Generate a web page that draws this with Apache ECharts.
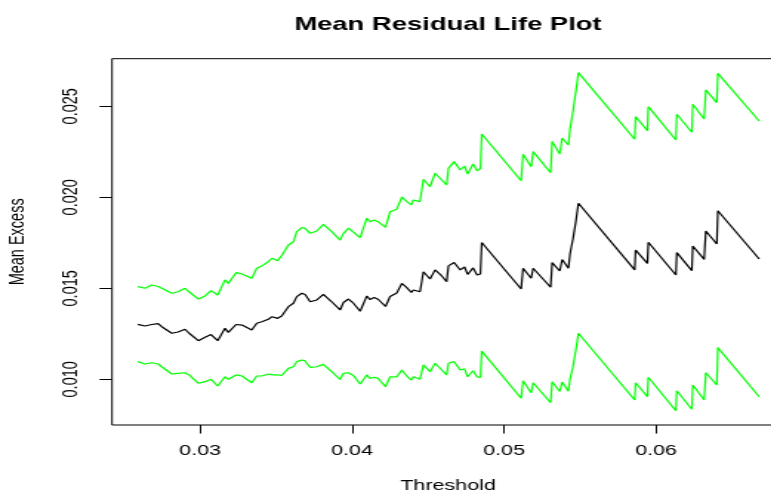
<!DOCTYPE html>
<html>
<head>
<meta charset="utf-8">
<script src="https://cdn.jsdelivr.net/npm/echarts@6/dist/echarts.min.js"></script>
<style>
  html, body { margin: 0; padding: 0; background: #fff; overflow: hidden; }
  #wrap { width: 771px; height: 490px; overflow: hidden; }
  /* the plot is laid out on a narrower canvas and widened horizontally */
  #chart { width: 521px; height: 490px; transform: scaleX(1.48); transform-origin: 0 0; }
</style>
</head>
<body>
<div id="wrap"><div id="chart"></div></div>
<script>
// Threshold grid and mean excess with its upper / lower confidence limits
const thresholds = [
  0.02590, 0.02638, 0.02682, 0.02724, 0.02748, 0.02814, 0.02855, 0.02901, 0.02928, 0.02989,
  0.03033, 0.03072, 0.03116, 0.03164, 0.03186, 0.03237, 0.03276, 0.03340, 0.03373, 0.03406,
  0.03449, 0.03474, 0.03510, 0.03537, 0.03581, 0.03614, 0.03636, 0.03669, 0.03691, 0.03724,
  0.03768, 0.03811, 0.03866, 0.03921, 0.03943, 0.03976, 0.04009, 0.04053, 0.04097, 0.04118,
  0.04145, 0.04171, 0.04220, 0.04250, 0.04294, 0.04327, 0.04360, 0.04390, 0.04403, 0.04447,
  0.04469, 0.04513, 0.04546, 0.04590, 0.04622, 0.04634, 0.04671, 0.04711, 0.04740, 0.04760,
  0.04796, 0.04822, 0.04844, 0.04853, 0.05112, 0.05125, 0.05178, 0.05191, 0.05306, 0.05316,
  0.05366, 0.05382, 0.05423, 0.05434, 0.05453, 0.05470, 0.05489, 0.05859, 0.05865, 0.05943,
  0.05949, 0.06130, 0.06136, 0.06235, 0.06241, 0.06316, 0.06327, 0.06399, 0.06406, 0.06678
];
const meanExcess = [
  0.01302, 0.01293, 0.01301, 0.01306, 0.01289, 0.01253, 0.01260, 0.01275, 0.01253, 0.01212,
  0.01231, 0.01246, 0.01212, 0.01280, 0.01258, 0.01301, 0.01298, 0.01271, 0.01308, 0.01316,
  0.01330, 0.01344, 0.01335, 0.01348, 0.01399, 0.01418, 0.01454, 0.01473, 0.01466, 0.01426,
  0.01436, 0.01466, 0.01426, 0.01381, 0.01422, 0.01441, 0.01418, 0.01374, 0.01458, 0.01438,
  0.01449, 0.01440, 0.01400, 0.01455, 0.01474, 0.01527, 0.01504, 0.01477, 0.01491, 0.01481,
  0.01591, 0.01551, 0.01601, 0.01568, 0.01536, 0.01623, 0.01642, 0.01601, 0.01617, 0.01576,
  0.01612, 0.01573, 0.01579, 0.01752, 0.01496, 0.01610, 0.01555, 0.01610, 0.01506, 0.01641,
  0.01595, 0.01658, 0.01610, 0.01691, 0.01771, 0.01857, 0.01967, 0.01601, 0.01710, 0.01637,
  0.01753, 0.01573, 0.01696, 0.01597, 0.01732, 0.01659, 0.01815, 0.01743, 0.01926, 0.01661
];
const upperBound = [
  0.01509, 0.01500, 0.01518, 0.01510, 0.01500, 0.01473, 0.01481, 0.01500, 0.01481, 0.01441,
  0.01458, 0.01487, 0.01463, 0.01546, 0.01527, 0.01586, 0.01579, 0.01555, 0.01610, 0.01623,
  0.01646, 0.01665, 0.01652, 0.01680, 0.01738, 0.01756, 0.01811, 0.01834, 0.01829, 0.01802,
  0.01815, 0.01851, 0.01811, 0.01765, 0.01802, 0.01830, 0.01809, 0.01778, 0.01885, 0.01866,
  0.01875, 0.01866, 0.01835, 0.01921, 0.01934, 0.02002, 0.01976, 0.01958, 0.01985, 0.01976,
  0.02099, 0.02058, 0.02132, 0.02095, 0.02068, 0.02159, 0.02196, 0.02150, 0.02172, 0.02128,
  0.02183, 0.02145, 0.02158, 0.02348, 0.02091, 0.02236, 0.02168, 0.02251, 0.02135, 0.02306,
  0.02238, 0.02326, 0.02287, 0.02379, 0.02470, 0.02571, 0.02685, 0.02319, 0.02443, 0.02366,
  0.02498, 0.02315, 0.02456, 0.02357, 0.02511, 0.02430, 0.02590, 0.02520, 0.02681, 0.02419
];
const lowerBound = [
  0.01097, 0.01084, 0.01091, 0.01084, 0.01069, 0.01029, 0.01033, 0.01036, 0.01024, 0.00978,
  0.00987, 0.01000, 0.00963, 0.01014, 0.01000, 0.01024, 0.01018, 0.00981, 0.01018, 0.01018,
  0.01029, 0.01024, 0.01024, 0.01021, 0.01060, 0.01069, 0.01097, 0.01106, 0.01101, 0.01066,
  0.01069, 0.01082, 0.01042, 0.00999, 0.01033, 0.01036, 0.01021, 0.00974, 0.01024, 0.01005,
  0.01011, 0.01005, 0.00959, 0.01014, 0.01013, 0.01051, 0.01018, 0.00996, 0.01014, 0.01000,
  0.01079, 0.01042, 0.01088, 0.01051, 0.01024, 0.01088, 0.01097, 0.01051, 0.01057, 0.01014,
  0.01047, 0.01013, 0.01011, 0.01155, 0.00896, 0.00992, 0.00926, 0.00981, 0.00871, 0.00987,
  0.00933, 0.00985, 0.00935, 0.01004, 0.01069, 0.01152, 0.01253, 0.00886, 0.00981, 0.00904,
  0.01011, 0.00827, 0.00937, 0.00835, 0.00969, 0.00886, 0.01036, 0.00969, 0.01174, 0.00904
];
const xTickValues = [0.03, 0.04, 0.05, 0.06];
const yTickValues = [0.010, 0.015, 0.020, 0.025];

const pairs = (ys) => thresholds.map((t, i) => [t, ys[i]]);

const FONT = '"Liberation Sans", Arial, sans-serif';
const chart = echarts.init(document.getElementById('chart'), null, { renderer: 'canvas' });

const lineSeries = (name, ys, color) => ({
  name, type: 'line', data: pairs(ys), showSymbol: false, symbol: 'none',
  lineStyle: { color, width: 1.2 }, silent: true, animation: false, z: 3
});

chart.setOption({
  animation: false,
  backgroundColor: '#fff',
  title: {
    text: 'Mean Residual Life Plot',
    left: 302.7, top: 15, textAlign: 'center', padding: 0,
    textStyle: { fontFamily: FONT, fontWeight: 'bold', fontSize: 18.5, color: '#000' }
  },
  grid: {
    left: 75.7, top: 58.7, width: 454.1, height: 366.3,
    outerBoundsMode: 'none', containLabel: false,
    show: true, borderColor: '#000', borderWidth: 1, backgroundColor: 'transparent'
  },
  xAxis: {
    type: 'value', min: 0.02421, max: 0.06842,
    name: 'Threshold', nameLocation: 'middle', nameGap: 53,
    nameTextStyle: { fontFamily: FONT, fontSize: 14.5, color: '#000' },
    axisLine: { show: false },
    splitLine: { show: false },
    axisTick: { show: true, inside: false, length: 8.5, customValues: xTickValues,
      lineStyle: { color: '#000', width: 1 } },
    axisLabel: { customValues: xTickValues, margin: 18, fontFamily: FONT, fontSize: 14.5, color: '#000',
      formatter: v => v.toFixed(2) }
  },
  yAxis: {
    type: 'value', min: 0.007489, max: 0.027615,
    name: 'Mean Excess', nameLocation: 'middle', nameGap: 56, nameRotate: 90,
    nameTextStyle: { fontFamily: FONT, fontSize: 14.5, color: '#000' },
    axisLine: { show: false },
    splitLine: { show: false },
    axisTick: { show: true, inside: false, length: 8.5, customValues: yTickValues,
      lineStyle: { color: '#000', width: 1 } },
    axisLabel: { customValues: yTickValues, rotate: 90, margin: 20, fontFamily: FONT, fontSize: 14.5, color: '#000',
      formatter: v => v.toFixed(3) }
  },
  series: [
    lineSeries('Mean excess', meanExcess, '#000000'),
    lineSeries('Upper limit', upperBound, '#00ff00'),
    lineSeries('Lower limit', lowerBound, '#00ff00')
  ]
});
</script>
</body>
</html>
